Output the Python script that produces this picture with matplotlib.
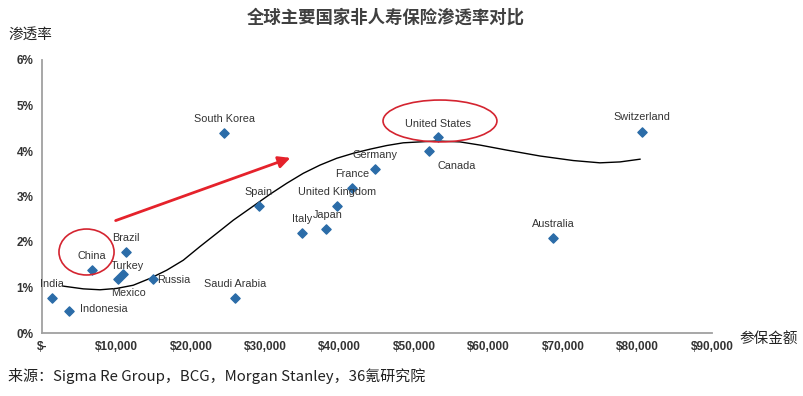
import matplotlib
matplotlib.use("Agg")
import matplotlib.pyplot as plt
from matplotlib.patches import Ellipse

plt.rcParams['font.family'] = ['Liberation Sans', 'Noto Sans CJK SC', 'DejaVu Sans']

# data: premium per capita ($) vs penetration (%)
countries = ['India', 'Indonesia', 'China', 'Brazil', 'Turkey', 'Mexico', 'Russia',
             'Saudi Arabia', 'South Korea', 'Spain', 'Italy', 'Japan', 'United Kingdom',
             'France', 'Germany', 'United States', 'Canada', 'Australia', 'Switzerland']
amount = [1300, 3630, 6680, 11240, 10920, 10250, 14950,
          25930, 24490, 29150, 34930, 38150, 39590,
          41680, 44690, 53230, 52030, 68690, 80640]
penetration = [0.78, 0.49, 1.38, 1.78, 1.29, 1.19, 1.19,
               0.78, 4.40, 2.79, 2.19, 2.29, 2.79,
               3.19, 3.60, 4.31, 4.00, 2.08, 4.41]

# trend curve points
curve_x = [2860, 5550, 7790, 10030, 12260, 14510, 16750, 18980, 21220, 23470, 25700,
           28390, 30630, 32870, 35100, 37340, 39590, 41820, 44060, 46300, 48530,
           50780, 53020, 56150, 58840, 62420, 66900, 71370, 74950, 77640, 80330]
curve_y = [1.03, 0.97, 0.95, 0.98, 1.05, 1.20, 1.38, 1.60, 1.90, 2.19, 2.48,
           2.79, 3.05, 3.29, 3.51, 3.69, 3.84, 3.95, 4.04, 4.12, 4.18,
           4.20, 4.22, 4.20, 4.13, 4.02, 3.89, 3.79, 3.74, 3.76, 3.82]

x_ticks = [0, 10000, 20000, 30000, 40000, 50000, 60000, 70000, 80000, 90000]
x_labels = ['$-', '$10,000', '$20,000', '$30,000', '$40,000', '$50,000',
            '$60,000', '$70,000', '$80,000', '$90,000']
y_ticks = [0, 1, 2, 3, 4, 5, 6]
y_labels = ['0%', '1%', '2%', '3%', '4%', '5%', '6%']

# label offsets in points (dx, dy, ha)
offsets = {
    'India': (0, 10, 'center'), 'Indonesia': (8, 1, 'left'), 'China': (0, 10, 'center'),
    'Brazil': (0, 10, 'center'), 'Turkey': (3, 6, 'center'), 'Mexico': (7, -10, 'center'),
    'Russia': (3, -1, 'left'), 'Saudi Arabia': (0, 10, 'center'),
    'South Korea': (0, 10, 'center'), 'Spain': (0, 10, 'center'), 'Italy': (0, 10, 'center'),
    'Japan': (1, 10, 'center'), 'United Kingdom': (0, 10, 'center'),
    'France': (0, 10, 'center'), 'Germany': (0, 10, 'center'),
    'United States': (0, 9, 'center'), 'Canada': (6, -11, 'left'),
    'Australia': (0, 10, 'center'), 'Switzerland': (0, 11, 'center'),
}

fig = plt.figure(figsize=(8.04, 3.96), dpi=100)
ax = fig.add_axes([42 / 804, 63 / 396, 670 / 804, 273 / 396])

ax.plot(curve_x, curve_y, color='black', lw=1.0, zorder=2)
ax.scatter(amount, penetration, marker='D', s=22, color='#2B6CA8', zorder=3)

for name, xv, yv in zip(countries, amount, penetration):
    dx, dy, ha = offsets[name]
    ax.annotate(name, (xv, yv), xytext=(dx, dy), textcoords='offset points',
                ha=ha, va='center', fontsize=7.8, color='#333333', zorder=4)

# red highlights
i_cn = countries.index('China')
i_us = countries.index('United States')
ax.add_patch(Ellipse((amount[i_cn] - 700, penetration[i_cn] + 0.40), 7400, 1.01,
                     fill=False, ec='#D42430', lw=1.2, zorder=5))
ax.add_patch(Ellipse((amount[i_us] + 230, penetration[i_us] + 0.35), 15300, 0.92,
                     fill=False, ec='#D42430', lw=1.2, zorder=5))
ax.annotate('', xy=(33720, 3.87), xytext=(9540, 2.45),
            arrowprops=dict(arrowstyle='-|>,head_length=0.7,head_width=0.35',
                            color='#E5222B', lw=2), zorder=5)

ax.set_xlim(0, 90000)
ax.set_ylim(0, 6)
ax.set_xticks(x_ticks)
ax.set_xticklabels(x_labels)
ax.set_yticks(y_ticks)
ax.set_yticklabels(y_labels)
ax.tick_params(length=0, labelsize=8.5, labelcolor='#333333', pad=6)
for lab in ax.get_xticklabels() + ax.get_yticklabels():
    lab.set_fontweight('bold')
    lab.set_family(['Liberation Sans Narrow', 'Liberation Sans'])
for s in ['top', 'right']:
    ax.spines[s].set_visible(False)
for s in ['left', 'bottom']:
    ax.spines[s].set_color('#A0A0A0')
    ax.spines[s].set_linewidth(1.3)

cjk = ['Noto Sans CJK SC', 'DejaVu Sans']
fig.text(386 / 804, 1 - 18 / 396, '全球主要国家非人寿保险渗透率对比', ha='center', va='center',
         fontsize=12.5, fontweight='bold', color='#404040', family=cjk)
fig.text(8 / 804, 1 - 35 / 396, '渗透率', ha='left', va='center', fontsize=10.5,
         color='#222222', family=cjk)
fig.text(739 / 804, 1 - 339 / 396, '参保金额', ha='left', va='center', fontsize=10.5,
         color='#222222', family=cjk)
fig.text(8 / 804, 1 - 376 / 396, '来源：Sigma Re Group，BCG，Morgan Stanley，36氪研究院',
         ha='left', va='center', fontsize=10.8, color='#222222', family=cjk)

fig.savefig('out.png', dpi=100)
